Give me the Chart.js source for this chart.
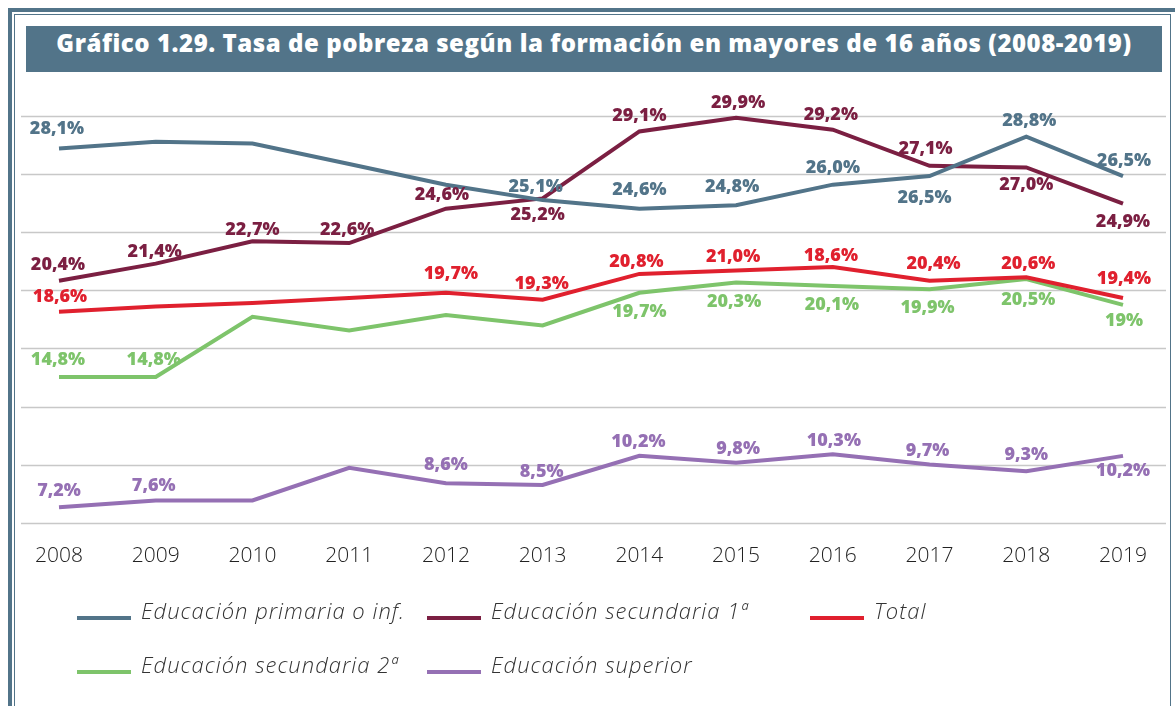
<!DOCTYPE html>
<html>
<head>
<meta charset="utf-8">
<script src="https://cdn.jsdelivr.net/npm/chart.js@4"></script>
<style>
  body { margin: 0; background: #fff; }
  #wrap { position: relative; width: 1175px; height: 706px; overflow: hidden; }
  .bar { position: absolute; background: #527489; }
  #inner { position: absolute; left: 14px; top: 14px; width: 1155px; height: 720px; border: 1.5px solid #527489; }
  #title {
    position: absolute; left: 26px; top: 26px; width: 1136px; height: 46px;
    background: #527489; color: #fff; text-align: center; line-height: 46px;
    font: 800 24px "Open Sans", sans-serif; letter-spacing: 0.55px; white-space: nowrap;
  }
  canvas { position: absolute; left: 0; top: 0; }
</style>
</head>
<body>
<div id="wrap">
  <div class="bar" style="left:8px;top:8px;width:1167px;height:4px"></div>
  <div class="bar" style="left:8px;top:8px;width:4px;height:698px"></div>
  <div id="inner"></div>
  <div id="title">Gráfico 1.29. Tasa de pobreza según la formación en mayores de 16 años (2008-2019)</div>
  <canvas id="myChart" width="1175" height="706"></canvas>
</div>
<script>
// datos
const years = ['2008', '2009', '2010', '2011', '2012', '2013', '2014', '2015', '2016', '2017', '2018', '2019'];

const primaria    = [28.1, 28.5, 28.4, 27.2, 26.0, 25.1, 24.6, 24.8, 26.0, 26.5, 28.8, 26.5];
const secundaria1 = [20.4, 21.4, 22.7, 22.6, 24.6, 25.2, 29.1, 29.9, 29.2, 27.1, 27.0, 24.9];
const total       = [18.6, 18.9, 19.1, 19.4, 19.7, 19.3, 20.8, 21.0, 21.2, 20.4, 20.6, 19.4];
const secundaria2 = [14.8, 14.8, 18.3, 17.5, 18.4, 17.8, 19.7, 20.3, 20.1, 19.9, 20.5, 19.0];
const superior    = [7.2, 7.6, 7.6, 9.5, 8.6, 8.5, 10.2, 9.8, 10.3, 9.7, 9.3, 10.2];

// etiquetas tal como aparecen en el gráfico
const primariaLabels    = ['28,1%', null, null, null, null, '25,1%', '24,6%', '24,8%', '26,0%', '26,5%', '28,8%', '26,5%'];
const secundaria1Labels = ['20,4%', '21,4%', '22,7%', '22,6%', '24,6%', '25,2%', '29,1%', '29,9%', '29,2%', '27,1%', '27,0%', '24,9%'];
const totalLabels       = ['18,6%', null, null, null, '19,7%', '19,3%', '20,8%', '21,0%', '18,6%', '20,4%', '20,6%', '19,4%'];
const secundaria2Labels = ['14,8%', '14,8%', null, null, null, null, '19,7%', '20,3%', '20,1%', '19,9%', '20,5%', '19%'];
const superiorLabels    = ['7,2%', '7,6%', null, null, '8,6%', '8,5%', '10,2%', '9,8%', '10,3%', '9,7%', '9,3%', '10,2%'];

// desplazamiento de cada etiqueta respecto a su punto
const primariaOffsets    = [[-2,-20], null, null, null, null, [-7,-13], [0,-19], [-4,-18], [0,-17], [-5,22], [3,-16], [1,-15]];
const secundaria1Offsets = [[-1,-16], [-1,-12], [0,-11], [-2,-13], [-4,-14], [-5,16], [0,-16], [2,-15], [-2,-15], [-4,-17], [0,17], [0,18]];
const totalOffsets       = [[1,-15], null, null, null, [5,-19], [-1,-16], [-3,-12], [-3,-14], [-2,-11], [4,-17], [2,-13], [1,-19]];
const secundaria2Offsets = [[-1,-17], [-2,-17], null, null, null, null, [0,19], [-2,19], [-1,19], [-2,19], [2,21], [1,16]];
const superiorOffsets    = [[0,-16], [-2,-15], null, null, [0,-18], [-1,-13], [-1,-14], [2,-14], [1,-13], [-2,-14], [0,-16], [0,15]];

const yMin = 6.3, yMax = 30, gridCount = 7;

const gridLines = {
  id: 'gridLines',
  beforeDatasetsDraw(chart) {
    const {ctx, scales: {y}} = chart;
    ctx.save();
    ctx.strokeStyle = '#c8c8c8';
    ctx.lineWidth = 1.3;
    for (let k = 0; k <= gridCount; k++) {
      const py = Math.round(y.getPixelForValue(yMin + k * (yMax - yMin) / gridCount)) + 0.5;
      ctx.beginPath();
      ctx.moveTo(21, py);
      ctx.lineTo(1166, py);
      ctx.stroke();
    }
    ctx.restore();
  }
};

const pointLabels = {
  id: 'pointLabels',
  afterDatasetsDraw(chart) {
    const ctx = chart.ctx;
    ctx.save();
    ctx.font = '800 18px "Open Sans", sans-serif';
    ctx.textAlign = 'center';
    ctx.textBaseline = 'middle';
    chart.data.datasets.forEach((ds, i) => {
      const meta = chart.getDatasetMeta(i);
      ctx.fillStyle = ds.borderColor;
      meta.data.forEach((pt, j) => {
        const text = ds.pointText[j];
        if (!text) return;
        const off = ds.textOffset[j];
        ctx.fillText(text, pt.x + off[0], pt.y + off[1]);
      });
    });
    ctx.restore();
  }
};

const legendCols = [77, 427, 810];
const legendRows = [616, 670];
const customLegend = {
  id: 'customLegend',
  afterDraw(chart) {
    const ctx = chart.ctx;
    ctx.save();
    ctx.font = 'italic 300 22px "Open Sans", sans-serif';
    ctx.letterSpacing = '1px';
    ctx.textBaseline = 'middle';
    chart.data.datasets.forEach((ds, i) => {
      const x = legendCols[i < 3 ? i : i - 3];
      const y = legendRows[i < 3 ? 0 : 1];
      ctx.fillStyle = ds.borderColor;
      ctx.fillRect(x, y, 54, 4);
      ctx.fillStyle = '#333';
      ctx.fillText(ds.label, x + 64, y - 3);
    });
    ctx.restore();
  }
};

const ctx = document.getElementById('myChart').getContext('2d');

function serie(label, data, color, text, offsets) {
  return {
    label, data,
    borderColor: color,
    backgroundColor: color,
    borderWidth: 4,
    pointRadius: 0,
    tension: 0,
    fill: false,
    clip: false,
    pointText: text,
    textOffset: offsets
  };
}

const config = {
  type: 'line',
  data: {
    labels: years,
    datasets: [
      serie('Educación primaria o inf.', primaria, '#527489', primariaLabels, primariaOffsets),
      serie('Educación secundaria 1ª', secundaria1, '#7b1f42', secundaria1Labels, secundaria1Offsets),
      serie('Total', total, '#e0202e', totalLabels, totalOffsets),
      serie('Educación secundaria 2ª', secundaria2, '#7ec46b', secundaria2Labels, secundaria2Offsets),
      serie('Educación superior', superior, '#9570b4', superiorLabels, superiorOffsets)
    ]
  },
  options: {
    responsive: false,
    animation: false,
    devicePixelRatio: 1,
    events: [],
    layout: { padding: { left: 59, right: 52, top: 116, bottom: 116 } },
    plugins: { legend: { display: false }, tooltip: { enabled: false }, title: { display: false } },
    scales: {
      x: {
        grid: { display: false, drawTicks: false, tickLength: 0 },
        border: { display: false },
        ticks: { color: '#222', padding: 21, maxRotation: 0, font: { family: '"Open Sans"', size: 21, weight: 300 } }
      },
      y: { display: false, min: yMin, max: yMax }
    }
  },
  plugins: [gridLines, pointLabels, customLegend]
};

const myChart = new Chart(ctx, config);
</script>
</body>
</html>
